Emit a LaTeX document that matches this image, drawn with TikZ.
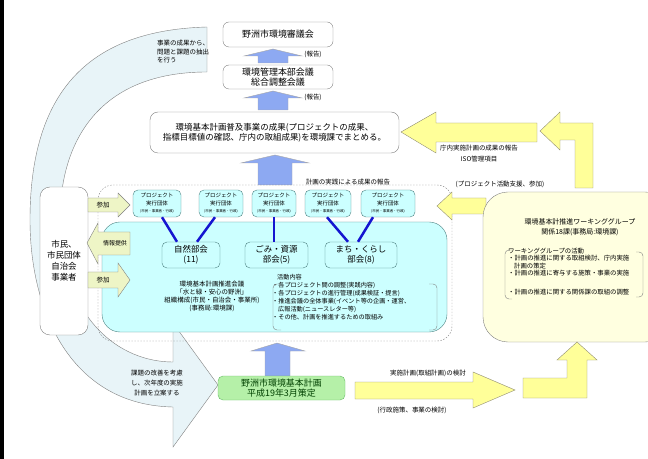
\documentclass[tikz,border=0pt]{standalone}
\usepackage{fontspec}
\setmainfont{Noto Sans CJK JP}
\usepackage{tikz}
\usetikzlibrary{positioning}

\definecolor{bandblue}{HTML}{E8F4F8}
\definecolor{blockblue}{HTML}{8DA9F2}
\definecolor{paleyellow}{HTML}{FFFF99}
\definecolor{wgyellow}{HTML}{FFFFE0}
\definecolor{cyanfill}{HTML}{CCFFFF}
\definecolor{sidegreen}{HTML}{EEF5C6}
\definecolor{greenfill}{HTML}{B5F0A8}
\definecolor{greenline}{HTML}{66BB66}
\definecolor{linkblue}{HTML}{1515D0}
\newcommand{\fsz}[2]{\fontsize{#1}{#2}\selectfont}

\begin{document}
\begin{tikzpicture}[x=1bp,y=-1bp,
        wbox/.style={draw=gray, fill=white, rounded corners=6bp, align=center, inner sep=1bp},
        cbox/.style={draw=teal!40!gray, fill=cyanfill, rounded corners=5bp, align=center, inner sep=1bp},
        blk/.style={draw=gray!70, fill=blockblue},
        yarr/.style={draw=gray!80!olive, fill=paleyellow},
        sarr/.style={draw=gray, fill=sidegreen},
        bluelink/.style={line width=2.5bp, linkblue},
        lbl/.style={font=\fsz{6.5}{8}, inner sep=0pt, align=center}]
          \useasboundingbox (0,0) rectangle (648,459);

          %left border
          \draw[line width=4bp] (2,0) -- (2,459);

          %curved feedback band
          \draw[gray, fill=bandblue] (207,27) .. controls (100,30) and (30,80) .. (30,220)
                .. controls (30,310) and (70,405) .. (173,407) -- (173,447) -- (218,385) -- (173,323) -- (173,362)
                .. controls (120,362) and (62,320) .. (60,220) .. controls (60,140) and (100,72) .. (207,72) -- cycle;
          \node[lbl, align=left, anchor=west, font=\fsz{6.5}{8.5}] (bandtop) at (157,52) {事業の成果から、\\問題と課題の抽出\\を行う};
          \node[lbl, font=\fsz{6.5}{10}] (bandbot) at (157,383) {課題の改善を考慮\\し、次年度の実施\\計画を立案する};

          %council boxes
          \node[wbox, minimum width=110bp, minimum height=25bp, font=\fsz{9}{11}] (shingi) at (278,34.5) {野洲市環境審議会};
          \node[wbox, minimum width=110bp, minimum height=24bp, font=\fsz{9}{10.5}] (honbu) at (278,77) {環境管理本部会議\\総合調整会議};
          \node[wbox, minimum width=249bp, minimum height=41bp, rounded corners=8bp, font=\fsz{8.5}{10.5}] (matome) at (274.5,132.5)
                {環境基本計画普及事業の成果(プロジェクトの成果、\\指標目標値の確認、庁内の取組成果)を環境課でまとめる。};

          %report arrows
          \draw[blk] (273,49) -- (302,56) -- (288,56) -- (288,63) -- (258,63) -- (258,56) -- (244,56) -- cycle;
          \draw[blk] (273,91) -- (302,98) -- (288,98) -- (288,110) -- (258,110) -- (258,98) -- (244,98) -- cycle;
          \draw[blk] (275,155) -- (309,163) -- (292,163) -- (292,185) -- (258,185) -- (258,163) -- (241,163) -- cycle;
          \node[lbl] (hokoku1) at (313,54) {(報告)};
          \node[lbl] (hokoku2) at (313,97) {(報告)};
          \node[lbl] (jissen) at (348,182) {計画の実践による成果の報告};

          %promotion council
          \draw[gray, dash pattern=on 1.5bp off 1.5bp, rounded corners=15bp] (98,185) rectangle (452,341);
          \draw[draw=teal!40!gray, fill=cyanfill, rounded corners=18bp] (102,222) rectangle (447,332);
          \foreach \x/\w [count=\i] in {157/48,221/44,274/44,328/46,388/54}
            \node[cbox, minimum width=\w bp, minimum height=27bp, font=\fsz{5.5}{7.5}] (p\i) at (\x,203.5)
                {プロジェクト\\実行団体\\{\fsz{3.5}{5}(市民・事業者・行政)}};
          \node[cbox, minimum width=58bp, minimum height=26bp, font=\fsz{8.5}{10.5}] (shizen) at (191,255) {自然部会\\(11)};
          \node[cbox, minimum width=63bp, minimum height=26bp, font=\fsz{8.5}{10.5}] (gomi) at (276.5,255) {ごみ・資源\\部会(5)};
          \node[cbox, minimum width=72bp, minimum height=26bp, font=\fsz{8.5}{10.5}] (machi) at (361,255) {まち・くらし\\部会(8)};
          \draw[bluelink] ([xshift=5bp]p1.south) -- ([xshift=-14bp]shizen.north);
          \draw[bluelink] ([xshift=-6bp]p2.south) -- ([xshift=6bp]shizen.north);
          \draw[bluelink] (p3.south) -- (p3.south |- gomi.north);
          \draw[bluelink] ([xshift=-1bp]p4.south) -- ([xshift=-13bp]machi.north);
          \draw[bluelink] ([xshift=-15bp]p5.south) -- ([xshift=-3bp]machi.north);
          \node[lbl, font=\fsz{6.5}{8}] (suishin) at (212,296) {環境基本計画推進会議\\「水と緑・安心の野洲」\\組織構成(市民・自治会・事業所)\\(事務局:環境課)};
          \node[lbl, align=left, anchor=north west, font=\fsz{6.2}{8}] (katsudo) at (272,274)
                {\hspace*{5bp}活動内容\\・各プロジェクト間の調整(実践内容)\\・各プロジェクトの進行管理(成果検証・提言)\\・推進会議の全体事業(イベント等の企画・運営、\\\hspace*{6bp}広報活動(ニュースレター等)\\・その他、計画を推進するための取組み};
          \draw[gray, rounded corners=4bp] (281,284) -- (273,284) -- (273,330) -- (281,330);
          \draw[gray, rounded corners=4bp] (429,284) -- (437,284) -- (437,330) -- (429,330);

          %citizens
          \node[wbox, minimum width=48bp, minimum height=148bp, rounded corners=10bp, font=\fsz{8.5}{11}] (shimin) at (64,261) {市民、\\市民団体\\自治会\\事業者};
          \draw[sarr] (88,198) -- (118,198) -- (118,193) -- (130,205) -- (118,217) -- (118,212) -- (88,212) -- cycle;
          \draw[sarr] (87,243) -- (98,223) -- (98,232) -- (130,232) -- (130,255) -- (98,255) -- (98,264) -- cycle;
          \draw[sarr] (88,272) -- (118,272) -- (118,263) -- (130,280) -- (118,297) -- (118,288) -- (88,288) -- cycle;
          \node[lbl] (sanka1) at (103,205) {参加};
          \node[lbl, font=\fsz{6}{7}] (joho) at (115,243) {情報提供};
          \node[lbl] (sanka2) at (103,280) {参加};

          %working group
          \draw[yarr] (401,132) -- (436,112) -- (436,123) -- (537,123) -- (537,142) -- (436,142) -- (436,153) -- cycle;
          \draw[yarr] (540,131) -- (560,112) -- (560,123) -- (593,123) -- (593,188) -- (575,188) -- (575,140) -- (560,140) -- (560,150) -- cycle;
          \node[lbl, font=\fsz{6.5}{11}] (chonai) at (479,154) {庁内実施計画の成果の報告\\ISO管理項目};
          \node[lbl] (shien) at (500,184) {(プロジェクト活動支援、参加)};
          \draw[yarr] (437,206) -- (452,192) -- (452,198) -- (486,198) -- (486,214) -- (452,214) -- (452,220) -- cycle;
          \node[draw=gray, fill=wgyellow, rounded corners=25bp, minimum width=187bp, minimum height=150bp] (wg) at (576.5,267) {};
          \node[lbl, font=\fsz{7}{10}] (wgname) at (580,227) {環境基本計推進ワーキンググループ\\関係18課(事務局:環境課)};
          \node[lbl, align=left, anchor=north west, font=\fsz{6.4}{7.3}] (wgact) at (508,248)
                {ワーキンググループの活動\\・計画の推進に関する取組検討、庁内実施\\\hspace*{6bp}計画の策定\\・計画の推進に寄与する施策・事業の実施\\[12bp]・計画の推進に関する関係課の取組の調整};
          \draw[gray, rounded corners=4bp] (512,250) -- (505,250) -- (505,299) -- (512,299);
          \draw[gray, rounded corners=4bp] (636,252) -- (643,252) -- (643,297) -- (636,297);

          %basic plan
          \draw[blk] (277,343) -- (305,351) -- (290,351) -- (290,376) -- (265,376) -- (265,351) -- (251,351) -- cycle;
          \node[draw=greenline, fill=greenfill, rounded corners=5bp, minimum width=127bp, minimum height=24bp, font=\fsz{9}{10.5},
                text=green!25!black, align=center, inner sep=1bp] (kihon) at (281.5,388) {野洲市環境基本計画\\平成19年3月策定};
          \draw[yarr] (355,382) -- (473,382) -- (473,372) -- (515,390) -- (473,408) -- (473,399) -- (355,399) -- cycle;
          \draw[yarr] (577,342) -- (597,360) -- (587,360) -- (587,398) -- (523,398) -- (523,378) -- (567,378) -- (567,360) -- (557,360) -- cycle;
          \node[lbl] (kento) at (428,373) {実施計画(取組計画)の検討};
          \node[lbl] (gyosei) at (412,410) {(行政施策、事業の検討)};
    \end{tikzpicture}
\end{document}
